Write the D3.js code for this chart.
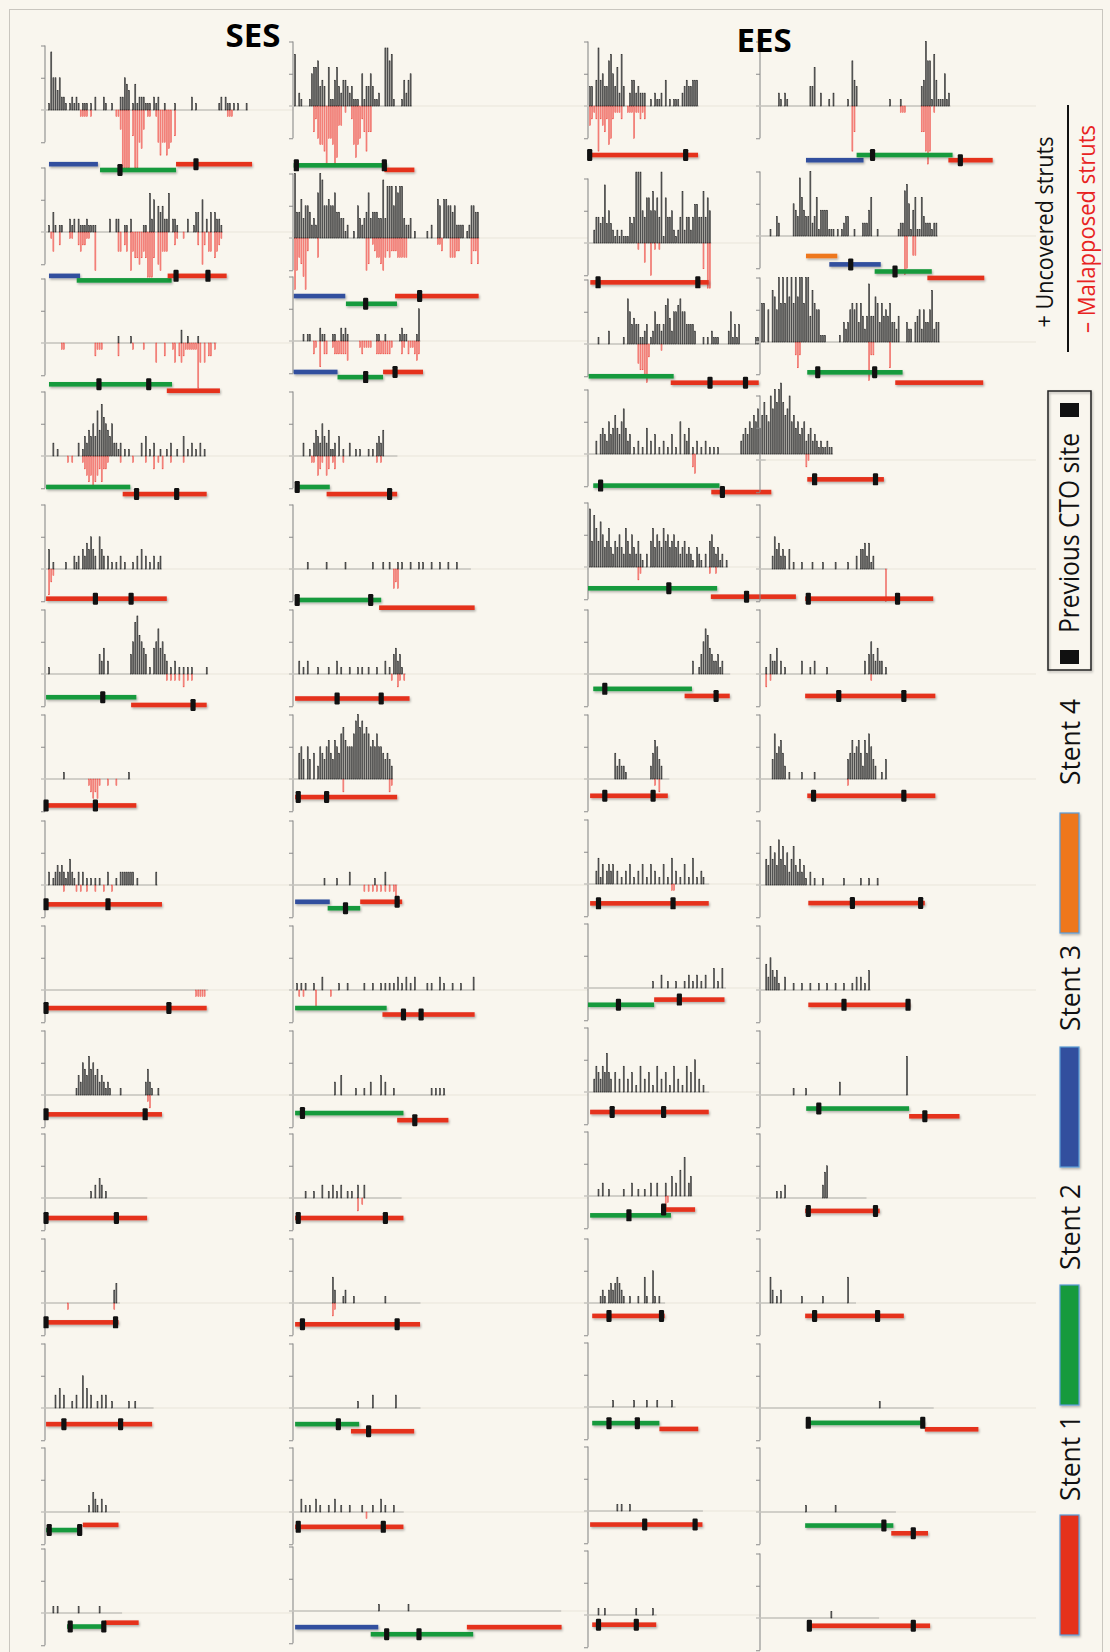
<!DOCTYPE html>
<html>
<head>
<meta charset="utf-8">
<script src="https://cdn.jsdelivr.net/npm/d3@7"></script>
<style>
body { margin: 0; background: #f9f6ee; }
svg { display: block; }
text { font-family: 'Open Sans', 'DejaVu Sans', sans-serif; }
</style>
</head>
<body>
<svg id="chart"></svg>
<script>
// per frame strut counts, one string per panel (dense digits, or sparse "frame:count")
var groupTitles = ['SES', 'EES']
var legendStents = ['Stent 1', 'Stent 2', 'Stent 3', 'Stent 4']

var uncovered = [
  [
    ['00195535221', '0121210111', '0102000210', '0100022543', '0141222111', '0212001000', '0100000002', '0100000000', '0012021101', '010001'],
    ['0010310110', '0021202111', '2111100000', '0200220011', '0200000110', '6250434226', '0221000020', '0133050203', '03221'],
    '35:1 41:1 65:2 68:1 73:1',
    '4:2 6:1 16:2 18:1 19:3 20:2 21:4 22:3 23:5 24:3 25:7 26:4 27:8 28:6 29:5 30:4 31:3 32:5 33:2 34:2 35:1 36:2 38:1 40:1 46:2 48:3 50:1 52:2 55:1 58:1 60:2 63:1 66:3 68:1 70:2 72:1 74:2 76:1',
    '2:3 4:1 10:1 14:2 15:1 16:2 18:3 19:2 20:4 21:3 22:5 23:3 24:2 26:5 27:3 28:2 30:2 32:1 34:1 36:2 38:1 42:1 44:2 46:3 48:2 50:1 52:2 54:1 55:2',
    '2:1 26:3 27:2 28:4 30:2 41:3 42:5 43:8 44:9 45:6 46:5 47:4 48:3 50:1 52:4 53:5 54:7 55:4 56:5 57:3 58:2 60:1 62:2 64:1 66:1 68:1 70:1 77:1',
    '9:1 40:1',
    '2:2 4:1 5:2 6:3 7:2 8:3 9:2 10:1 11:2 12:4 13:2 14:1 16:2 18:2 20:1 22:1 24:1 26:1 30:2 34:1 36:2 37:2 38:2 39:2 40:2 41:2 42:2 44:1 53:2',
    '77:0',
    '15:1 16:3 17:2 18:5 19:4 20:3 21:6 22:4 23:5 24:3 25:4 26:2 27:3 28:2 29:1 30:2 31:1 36:1 48:2 49:4 50:2 51:1 54:1',
    '22:1 24:2 26:3 27:2 29:1 48:0',
    '33:2 34:3 35:0',
    '5:2 7:3 9:2 13:1 15:2 18:5 20:3 22:2 25:1 27:2 29:2 32:1 40:1 43:1 51:0',
    '21:1 23:3 24:2 25:1 27:2 29:1 35:0',
    '4:1 6:1 16:1 26:1 36:0'
  ],
  [
    ['0802100015', '6673430611', '4632443231', '1105133531', '1200997810', '0014245'],
    ['0a44635542', '327a955655', '7443312001', '0532347344', '4339388858', '7883223010', '0000102006', '5066554522', '220125544'],
    ['0000010110', '0002110001', '1002121000', '0000000000', '1100100000', '0121100001', '5'],
    '5:2 8:1 10:2 11:4 12:3 13:2 14:5 15:3 16:2 17:4 18:1 19:1 20:2 22:3 24:1 27:2 30:1 32:1 36:1 38:1 40:2 41:3 42:2 43:4 49:0',
    '7:1 16:1 25:1 38:1 43:1 46:1 50:1 52:1 56:1 60:1 62:1 66:1 70:1 74:1 78:1 84:0',
    '3:2 5:1 7:2 12:1 17:1 21:2 23:1 27:1 31:1 33:1 36:1 40:1 44:2 46:1 48:3 49:4 50:2 51:3 52:1',
    '3:4 4:5 5:3 7:5 8:3 10:4 12:2 13:5 14:4 15:3 16:5 17:6 18:4 19:3 20:6 21:5 22:4 23:7 24:8 25:6 26:5 27:5 28:5 29:7 30:9 31:10 32:8 33:9 34:7 35:8 36:7 37:5 38:6 39:5 40:7 41:5 42:5 43:4 44:3 45:4 46:3 47:2',
    '15:1 21:1 27:2 39:1 44:2 49:0',
    '2:1 4:1 6:1 10:1 14:2 22:1 26:1 34:1 38:1 42:1 44:1 46:1 48:1 50:2 52:1 54:2 56:1 58:2 64:1 66:1 70:2 72:1 76:1 80:1 86:2',
    '20:2 23:3 30:1 34:1 37:2 42:3 44:2 48:1 66:1 68:1 70:1 72:1',
    '6:1 10:1 14:2 17:1 19:2 21:1 23:2 26:1 28:1 31:2 34:2 51:0',
    '19:4 20:2 24:1 25:2 29:1 44:1 60:0',
    '31:1 38:2 49:2 60:0',
    '4:2 6:1 8:1 11:2 13:1 17:1 20:2 23:1 27:1 33:1 38:1 42:2 44:1 48:1 52:0',
    '41:1 55:1 127:0'
  ],
  [
    ['0330494533', '7853628300', '2442322200', '1021120401', '0111023433', '444'],
    ['0002443493', '5321212111', '434bbb5477', '58574b1744', '5212482442', '466448475'],
    ['0000010000', '2000000107', '5343311230', '1253323674', '2556755333', '3200010102', '1110000251', '3130000000', '11'],
    '4:2 6:3 7:4 8:3 9:2 10:5 11:3 12:4 13:6 14:4 15:3 16:5 17:7 18:4 19:2 20:3 22:1 24:2 26:1 28:4 30:2 32:3 34:1 36:2 38:1 40:3 42:1 44:5 46:3 47:2 48:4 50:1 52:2 54:1 56:2 58:1 60:1 62:1 73:2 74:3 75:4 76:3 77:5 78:4 79:6 80:5 81:7 82:4 83:6 84:8 85:6 86:5 87:9 88:7 89:10 90:8 91:10 92:11 93:8 94:6 95:7 96:9 97:5 98:6 99:4 100:5 101:3 102:4 103:5 104:2 105:3 106:4 107:2 108:3 109:2 110:1 111:2 112:1 113:1 114:2 115:1 116:1',
    '1:9 2:4 3:8 4:6 5:4 6:7 7:5 8:3 9:4 10:6 11:3 12:2 13:4 14:3 15:5 16:3 17:2 18:6 19:4 20:2 21:5 22:3 23:2 24:4 25:2 26:1 28:2 30:4 31:6 32:3 33:5 34:4 35:3 36:6 37:4 38:5 39:3 40:4 41:5 42:3 43:4 44:2 45:3 46:4 47:2 48:3 49:2 50:1 52:3 53:2 54:1 56:2 58:4 59:5 60:3 61:2 62:3 63:1 64:2 66:1',
    '50:2 53:1 54:3 55:5 56:7 57:6 58:4 59:3 60:2 61:2 62:3 63:1 64:2 67:0',
    '13:4 14:2 15:3 16:2 17:2 18:1 30:2 31:4 32:6 33:5 34:3 35:2 38:0',
    '4:2 5:4 6:1 7:3 9:2 10:3 11:2 12:3 14:2 16:1 18:2 20:3 22:1 24:2 26:3 28:1 30:3 32:2 34:1 36:3 38:1 40:4 42:2 44:1 46:3 48:1 50:4 52:1 54:2 55:1 57:0',
    '31:1 35:2 38:1 42:1 46:1 48:2 50:1 52:2 54:1 56:2 60:3 62:1 64:3 65:0',
    '3:2 4:4 5:3 6:2 7:4 8:3 9:6 10:3 11:2 13:3 15:2 17:4 19:2 21:3 23:1 25:4 27:2 29:3 31:1 33:4 35:2 37:3 39:1 41:4 43:2 45:1 47:4 49:3 51:5 53:2 55:1 57:0',
    '5:1 7:2 10:1 17:1 21:2 24:1 27:1 30:2 33:2 37:2 40:3 42:2 44:4 46:6 48:2 49:3',
    '6:1 7:2 8:1 10:2 11:3 12:2 13:3 14:4 15:3 16:2 17:1 20:1 24:1 27:4 28:1 31:5 32:1 34:1 36:0',
    '12:1 22:1 28:1 33:1 40:1 41:0',
    '14:1 16:1 20:1 54:0',
    '5:1 8:1 23:1 31:1 32:0'
  ],
  [
    ['0000000002', '1021000000', '0000336002', '0001020000', '0010743000', '0000000000', '0010000100', '000000034a', '77184111512'],
    ['0000010032', '0000005439', '6433a23614', '4441110101', '2330010002', '2246001000', '0000001227', '8514611632', '22122'],
    ['066050875a', '6a6a7a6a7a', 'a6aa486551', '1100000010', '3235656364', '2494476364', '5463324000', '3220345253', '358233'],
    '0:0',
    '6:2 7:5 8:3 9:4 10:2 11:3 12:2 14:3 16:1 20:1 25:1 30:1 36:1 42:1 46:2 48:3 49:3 50:4 51:2 52:4 53:1 54:2 60:0',
    '3:1 5:3 6:2 7:2 8:4 10:2 12:1 20:2 24:1 26:2 32:1 50:2 52:3 53:5 54:3 55:2 56:4 57:2 58:2 60:1',
    '6:3 7:7 8:4 9:5 10:6 11:4 12:2 14:1 20:1 26:1 42:3 43:4 44:6 45:4 46:5 47:6 48:4 49:2 50:6 51:4 52:7 53:5 54:3 55:2 58:1 60:3',
    '3:4 4:3 5:6 6:4 7:5 8:3 9:7 10:4 11:6 12:3 13:5 14:2 15:4 16:6 17:3 18:2 19:4 20:2 21:3 22:1 24:2 26:1 30:1 40:1 48:1 52:1 56:1',
    '3:4 4:2 5:5 6:3 7:2 8:3 9:1 12:2 16:1 20:1 24:1 28:1 32:1 36:1 40:1 44:1 46:2 48:2 50:1 52:3',
    '16:1 22:1 38:2 70:6',
    '8:1 10:1 12:2 30:2 31:4 32:5 50:0',
    '5:4 6:2 8:1 10:2 20:1 30:1 42:4 45:0',
    '57:1 82:0',
    '22:1 36:1 64:0',
    '34:1 56:0'
  ]
]

var malapposed = [
  [
    ['00000000000', '0000001111', '0100000000', '0001139999', '0499563011', '0015755765', '0400000000', '0000000000', '000000111'],
    ['0001300200', '0011002322', '1100600000', '0000033023', '0634454347', '7740563330', '0021001000', '0002052033', '04321'],
    ['0000000011', '0000000000', '0000211100', '0000020000', '0010000100', '0003000200', '0130232111', '1117303022', '01'],
    '11:1 13:1 18:1 19:2 20:3 21:4 22:3 23:5 24:4 25:3 26:2 27:4 28:2 29:2 30:1 36:1 42:1 48:1 52:2 54:1 56:2 60:1 66:1',
    '2:4 3:2 4:1',
    '58:1 60:1 62:1 64:1 66:2 68:1 70:1',
    '21:1 22:2 23:3 24:2 25:3 26:1 30:1 34:1',
    '9:1 15:1 17:1 20:1 24:1 28:1 32:1',
    '72:1 73:1 74:1 75:1 76:1',
    '49:1 50:2',
    '',
    '11:1 33:1',
    '', '', ''
  ],
  [
    ['0000000000', '4256679556', '9833010026', '86524744'],
    ['0853468200', '0030000000', '0000000000', '0000054012', '3345323222', '3333300000', '0000000001', '1200033322', '000004224'],
    ['0000000000', '2104022001', '2222223000', '0012111100', '2222222100', '0021021123', '2'],
    '9:1 10:1 12:3 13:2 14:1 16:3 17:2 19:1 20:2 24:1 40:1 42:1',
    '48:3 49:2 50:3',
    '47:1 50:2 51:1 53:1',
    '24:2 46:2 47:1',
    '34:1 36:1 38:1 40:1 42:1 44:1 46:1 48:1 49:2',
    '3:1 5:1 11:3 18:1',
    '',
    '31:2 33:1',
    '19:2 20:1',
    '',
    '35:1',
    ''
  ],
  [
    ['0321272342', '6521112001', '11511212'],
    '24:1 27:3 30:5 32:1 34:1 55:4 57:7 58:7',
    '24:3 25:4 26:4 27:5 28:6 29:2 35:1',
    '50:2 51:3 104:2 105:1',
    '24:2 25:1 58:1 61:1',
    '',
    '32:1 34:2',
    '40:1 41:1',
    '',
    '',
    '37:2 38:1',
    '', '', '', ''
  ],
  [
    '44:7 45:4 67:1 68:1 69:1 77:4 78:4 79:7 80:9 81:7 83:1',
    '69:6 70:5 73:3 74:3',
    '17:2 18:4 19:2 52:6 53:2 54:2 62:4',
    '',
    '60:5',
    '3:2 5:1 53:1',
    '42:1',
    '', '', '', '', '', '', '', ''
  ]
]

// stents: [stent number, first frame, last frame, level in strut units]
var stents = [
  [
    [[3, 1.9, 25.2, -8.4], [2, 26.2, 62.4, -9.3], [1, 62.4, 98.6, -8.4]],
    [[3, 1.9, 16.7, -6.8], [2, 15.1, 60.3, -7.5], [1, 58.4, 86.5, -6.8]],
    [[2, 1.9, 60.5, -6.4], [1, 58, 83.3, -7.4]],
    [[2, 0.5, 40.6, -4.8], [1, 37, 77, -5.9]],
    [[1, 0.5, 58, -4.6]],
    [[2, 0.5, 43.5, -3.6], [1, 41, 77, -4.8]],
    [[1, 0.5, 43.5, -4.1]],
    [[1, 0.5, 55.7, -3]],
    [[1, 0.5, 77, -2.8]],
    [[1, 0.5, 55.7, -3]],
    [[1, 0.5, 48.6, -3.1]],
    [[1, 0.5, 35, -3]],
    [[1, 0.5, 51, -2.5]],
    [[2, 0.5, 17, -2.8], [1, 18, 35, -2]],
    [[2, 10.5, 28.5, -2.1], [1, 28.5, 44.6, -1.5]]
  ],
  [
    [[2, 0.3, 44.8, -9.2], [1, 43.5, 57.8, -9.9]],
    [[3, 0.3, 24.9, -9], [2, 25.2, 49.5, -10.2], [1, 48.6, 88.4, -9]],
    [[3, 0.3, 21.2, -4.8], [2, 21.2, 42.9, -5.6], [1, 42.9, 61.9, -4.8]],
    [[2, 1, 17.5, -4.8], [1, 16, 49.6, -5.9]],
    [[2, 1, 42, -4.8], [1, 41, 86.5, -6]],
    [[1, 1, 55.5, -3.8]],
    [[1, 1, 49.6, -2.8]],
    [[3, 1, 17.5, -2.6], [2, 16.5, 32, -3.6], [1, 32, 52, -2.6]],
    [[2, 1, 44.6, -2.8], [1, 42.6, 86.5, -3.8]],
    [[2, 1, 52.6, -2.8], [1, 49.6, 74, -3.9]],
    [[1, 1, 52.6, -3.1]],
    [[1, 1, 60.5, -3.3]],
    [[2, 1, 31.5, -2.5], [1, 27.6, 57.7, -3.6]],
    [[1, 1, 52.6, -2.3]],
    [[3, 1, 40.6, -2.5], [2, 37, 85.8, -3.6], [1, 82.8, 127.9, -2.5]]
  ],
  [
    [[1, 0.8, 52.4, -7.6]],
    [[1, 1.1, 57.5, -6.1]],
    [[2, 0.3, 40.8, -5], [1, 39.4, 81.3, -6]],
    [[2, 2.5, 62.6, -4.9], [1, 58.7, 87.3, -5.9]],
    [[2, 0, 61.5, -3.3], [1, 58.5, 99, -4.6]],
    [[2, 2.5, 49.5, -2.3], [1, 46, 67.5, -3.4]],
    [[1, 1, 38, -2.6]],
    [[1, 1, 57.5, -3]],
    [[2, 0, 31.5, -2.6], [1, 31.5, 65, -1.8]],
    [[1, 1, 57.5, -3.1]],
    [[2, 1, 39.5, -3], [1, 35, 51, -2.1]],
    [[1, 2, 36.5, -2]],
    [[2, 2, 34, -2.5], [1, 34, 52.5, -3.4]],
    [[1, 1, 54.5, -2.1]],
    [[1, 2, 32.5, -1.5]]
  ],
  [
    [[3, 21.9, 49.3, -8.4], [2, 46, 91.7, -7.6], [1, 89.7, 110.8, -8.4]],
    [[4, 21.9, 36.8, -3.1], [3, 33, 57.5, -4.4], [2, 54.6, 81.8, -5.5], [1, 79.7, 106.8, -6.5]],
    [[2, 22.5, 67.9, -4.7], [1, 64.4, 106.3, -6.3]],
    [[1, 22.5, 59, -3]],
    [[1, 21.5, 82.5, -4.6]],
    [[1, 21.5, 83.5, -3.4]],
    [[1, 22.5, 83.5, -2.6]],
    [[1, 23, 78.5, -2.8]],
    [[1, 23, 71.5, -2.3]],
    [[2, 22, 71, -2.1], [1, 71, 95, -3.3]],
    [[1, 21.5, 57, -2]],
    [[1, 21.5, 68.5, -2]],
    [[2, 22, 78.5, -2.3], [1, 78.5, 104, -3.3]],
    [[2, 21.5, 63.5, -2.1], [1, 62.5, 80, -3.3]],
    [[1, 22.5, 81, -1.2]]
  ]
]

// previous CTO site: [frame, index of the stent it sits on]
var ctoSites = [
  [[[35.7, 1], [71.9, 2]], [[62.4, 2], [77.6, 2]], [[25.7, 0], [49.4, 0]], [[43.6, 1], [62.7, 1]], [[24, 0], [41, 0]],
   [[27.5, 0], [70.5, 1]], [[0.5, 0], [24, 0]], [[0.5, 0], [30, 0]], [[0.5, 0], [59, 0]], [[0.5, 0], [47.7, 0]],
   [[0.5, 0], [34, 0]], [[0.5, 0], [33.6, 0]], [[9, 0], [36, 0]], [[2, 0], [16.5, 0]], [[12, 0], [28, 0]]],
  [[[1.6, 0], [43.5, 0]], [[34.6, 1], [60.3, 2]], [[34.6, 1], [48.6, 2]], [[2, 0], [46, 1]], [[2, 0], [37, 0]],
   [[21, 0], [42, 0]], [[2.5, 0], [16, 0]], [[25, 1], [49.6, 2]], [[52.6, 1], [61, 1]], [[4.5, 0], [58, 1]],
   [[2.5, 0], [44, 0]], [[4.5, 0], [49.6, 0]], [[21.6, 0], [36, 1]], [[2.5, 0], [43, 0]], [[44.6, 1], [60, 1]]],
  [[[0.8, 0], [46.5, 0]], [[4.8, 0], [52.3, 0]], [[58.1, 1], [75, 1]], [[6, 0], [64, 1]], [[38.5, 0], [75.5, 1]],
   [[8, 0], [61, 1]], [[8, 0], [31, 0]], [[5, 0], [40.5, 0]], [[14.5, 0], [43.5, 1]], [[11.5, 0], [36, 0]],
   [[19.5, 0], [36, 1]], [[10, 0], [35, 0]], [[10, 0], [23.5, 0]], [[27, 0], [51, 0]], [[5, 0], [23, 0]]],
  [[[53.6, 1], [95.4, 2]], [[43.2, 1], [64.3, 2]], [[27.5, 0], [54.6, 0]], [[26, 0], [55, 0]], [[23, 0], [65.5, 0]],
   [[37.5, 0], [68.5, 0]], [[25.5, 0], [68.5, 0]], [[44, 0], [76.5, 0]], [[40, 0], [70.5, 0]], [[28, 0], [78.5, 1]],
   [[23, 0], [55, 0]], [[26, 0], [56, 0]], [[23, 0], [77.5, 0]], [[59, 0], [73, 1]], [[23.5, 0], [73, 0]]]
]

// layout
var width = 1110, height = 1652
var framePitch = 2.1, unitPx = 6.45
var columnAxisX = [45, 293, 588, 760]
var rowBaseY = [
  [110, 232, 343, 456, 569, 674, 779, 885, 990, 1095, 1198, 1303, 1408, 1512, 1613],
  [106, 238, 341, 456, 569, 674, 779, 885, 990, 1095, 1198, 1303, 1408, 1512, 1611],
  [106, 243, 344, 454, 567, 674, 779, 884, 988, 1092, 1196, 1303, 1407, 1511, 1615],
  [106, 236, 342, 460, 569, 674, 779, 885, 990, 1095, 1198, 1303, 1408, 1512, 1618]
]
var stentColors = { 1: '#e5321f', 2: '#169a3d', 3: '#33509e', 4: '#ee771c' }

function parseBars(s) {
  if (Array.isArray(s)) s = s.join('')
  var v = []
  if (!s) return v
  if (s.indexOf(':') >= 0) {
    s.trim().split(/\s+/).forEach(function (p) {
      var kv = p.split(':')
      v[+kv[0]] = +kv[1]
    })
    for (var i = 0; i < v.length; i++) v[i] = v[i] || 0
  } else {
    v = s.split('').map(function (ch) { return parseInt(ch, 36) })
  }
  return v
}

var svg = d3.select('#chart').attr('width', width).attr('height', height)
svg.append('rect').attr('width', width).attr('height', height).attr('fill', '#f9f6ee')
svg.append('rect').attr('x', 9.5).attr('y', 9.5).attr('width', 1093).attr('height', 1660)
  .attr('fill', 'none').attr('stroke', '#c9c6bf').attr('stroke-width', 1)

var defs = svg.append('defs')
defs.append('filter').attr('id', 'shadow').attr('x', '-20%').attr('y', '-60%').attr('width', '140%').attr('height', '260%')
  .append('feDropShadow').attr('dx', 1).attr('dy', 1.5).attr('stdDeviation', 1)
  .attr('flood-color', '#000').attr('flood-opacity', 0.3)

// faint guide lines at every baseline
var faintLayer = svg.append('g')
for (var c = 0; c < 4; c++) {
  for (var r = 0; r < 15; r++) {
    var xEnd = c < 3 ? columnAxisX[c + 1] : 1036
    faintLayer.append('line')
      .attr('x1', columnAxisX[c]).attr('x2', xEnd)
      .attr('y1', rowBaseY[c][r]).attr('y2', rowBaseY[c][r])
      .attr('stroke', '#e9e5da').attr('stroke-width', 1)
  }
}

var panelLayer = svg.append('g')
for (var c = 0; c < 4; c++) {
  for (var r = 0; r < 15; r++) {
    drawPanel(c, r)
  }
}

function drawPanel(c, r) {
  var ax = columnAxisX[c]
  var base = rowBaseY[c][r]
  var x = d3.scaleLinear().domain([0, 1]).range([ax, ax + framePitch])
  var y = d3.scaleLinear().domain([0, 10]).range([base, base - 10 * unitPx])
  var up = parseBars(uncovered[c][r])
  var dn = parseBars(malapposed[c][r])
  var len = Math.max(up.length, dn.length)
  var g = panelLayer.append('g')

  var yAxis = d3.axisLeft(y).tickValues([-5, 5, 10]).tickSize(4).tickSizeOuter(0).tickFormat('')
  var axisG = g.append('g').attr('transform', 'translate(' + ax + ',0)').call(yAxis)
  axisG.select('.domain').attr('d', 'M0,' + y(10) + 'V' + y(-5)).attr('stroke', '#8b8b8b').attr('stroke-width', 1.1)
  axisG.selectAll('.tick line').attr('stroke', '#8b8b8b')

  g.append('line')
    .attr('x1', ax - 4).attr('x2', x(Math.max(len - 1, 2)) + 1.5)
    .attr('y1', base).attr('y2', base)
    .attr('stroke', '#c6c4bf').attr('stroke-width', 1.6)

  var upData = up.map(function (v, i) { return [i, v] }).filter(function (d) { return d[1] > 0 })
  var dnData = dn.map(function (v, i) { return [i, v] }).filter(function (d) { return d[1] > 0 })

  g.selectAll('rect.dn').data(dnData).enter().append('rect').attr('class', 'dn')
    .attr('x', function (d) { return x(d[0]) - 0.5 })
    .attr('width', 1.0)
    .attr('y', base)
    .attr('height', function (d) { return y(-d[1]) - base })
    .attr('fill', '#f7aaa4').attr('stroke', '#ec3b32').attr('stroke-width', 0.45)

  g.selectAll('rect.up').data(upData).enter().append('rect').attr('class', 'up')
    .attr('x', function (d) { return x(d[0]) - 0.5 })
    .attr('width', 1.0)
    .attr('y', function (d) { return y(d[1]) })
    .attr('height', function (d) { return base - y(d[1]) })
    .attr('fill', '#7a7a7a').attr('stroke', '#141414').attr('stroke-width', 0.5)

  var st = stents[c][r]
  g.selectAll('rect.stent').data(st).enter().append('rect').attr('class', 'stent')
    .attr('x', function (d) { return x(d[1]) })
    .attr('width', function (d) { return x(d[2]) - x(d[1]) })
    .attr('y', function (d) { return y(d[3]) - 2.3 })
    .attr('height', 4.6)
    .attr('fill', function (d) { return stentColors[d[0]] })
    .attr('filter', 'url(#shadow)')

  g.selectAll('rect.cto').data(ctoSites[c][r]).enter().append('rect').attr('class', 'cto')
    .attr('x', function (d) { return x(d[0]) - 2.6 })
    .attr('y', function (d) { return y(st[d[1]][3]) - 6 })
    .attr('width', 5.2).attr('height', 12).attr('rx', 1.2)
    .attr('fill', '#111')
}

// group titles
svg.append('text').attr('x', 253).attr('y', 47).attr('text-anchor', 'middle')
  .attr('font-size', 33).attr('font-weight', 'bold').attr('fill', '#000').text(groupTitles[0])
svg.append('text').attr('x', 764).attr('y', 52).attr('text-anchor', 'middle')
  .attr('font-size', 33).attr('font-weight', 'bold').attr('fill', '#000').text(groupTitles[1])

// legend
var legend = svg.append('g')
function vText(tx, ty, s, size, len, fill) {
  legend.append('text').attr('transform', 'translate(' + tx + ',' + ty + ') rotate(-90)')
    .attr('text-anchor', 'middle').attr('font-size', size).attr('fill', fill)
    .attr('textLength', len).attr('lengthAdjust', 'spacingAndGlyphs').text(s)
}
vText(1053, 232, '+ Uncovered struts', 23, 191, '#111')
legend.append('line').attr('x1', 1068).attr('x2', 1068).attr('y1', 105).attr('y2', 352)
  .attr('stroke', '#111').attr('stroke-width', 2)
vText(1095, 229, '\u2013 Malapposed struts', 23, 208, '#e8231f')

legend.append('rect').attr('x', 1048).attr('y', 391).attr('width', 43).attr('height', 279)
  .attr('fill', 'none').attr('stroke', '#222').attr('stroke-width', 1.5).attr('filter', 'url(#shadow)')
legend.append('rect').attr('x', 1060).attr('y', 403).attr('width', 19).attr('height', 14).attr('fill', '#111')
legend.append('rect').attr('x', 1060).attr('y', 650).attr('width', 19).attr('height', 14).attr('fill', '#111')
vText(1079, 533, 'Previous CTO site', 28, 200, '#111')

var legendBars = [[1, 1515], [2, 1285], [3, 1047], [4, 813]]
var legendLabelY = [1458, 1227, 988, 742]
legendBars.forEach(function (d, i) {
  legend.append('rect').attr('x', 1060).attr('y', d[1]).attr('width', 19).attr('height', 120)
    .attr('fill', stentColors[d[0]]).attr('stroke', '#5b9bd5').attr('stroke-width', 1.2)
    .attr('filter', 'url(#shadow)')
  vText(1080, legendLabelY[i], legendStents[i], 28, 86, '#111')
})
</script>
</body>
</html>
